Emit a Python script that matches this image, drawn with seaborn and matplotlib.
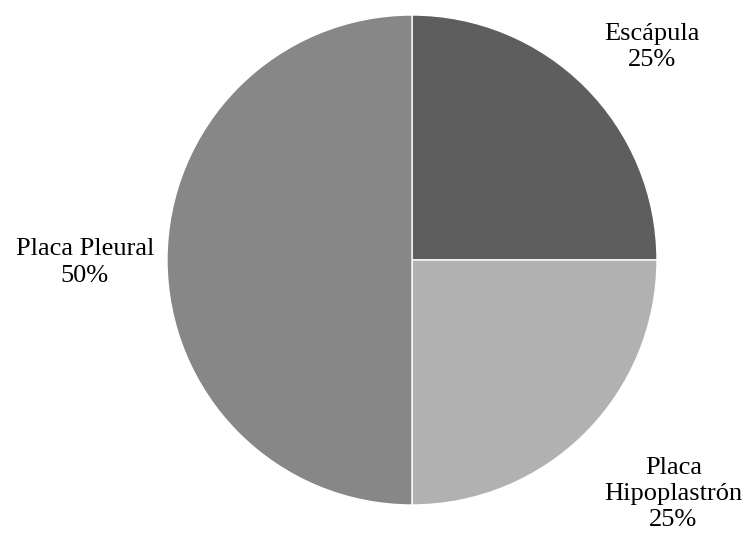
import matplotlib
matplotlib.use('Agg')
import matplotlib.pyplot as plt
import seaborn as sns

# data
parts = ['Escápula', 'Placa\nHipoplastrón', 'Placa Pleural']
shares = [25, 25, 50]
colours = ['#5e5e5e', '#b1b1b1', '#878787']
# label spots, in units of the pie radius
label_xy = [(0.98, 0.87), (1.067, -0.955), (-1.335, -0.01)]

sns.set_theme(style='white')
plt.rcParams['font.family'] = ['Liberation Serif', 'DejaVu Serif']

fig = plt.figure(figsize=(7.47, 5.36), dpi=100)
ax = fig.add_axes([167 / 747, 31 / 536, 490 / 747, 490 / 536])

ax.pie(shares, colors=colours, startangle=90, counterclock=False,
       radius=1, wedgeprops=dict(edgecolor='white', linewidth=1.0))

for name, val, (x, y) in zip(parts, shares, label_xy):
    ax.text(x, y, f'{name}\n{val}%', ha='center', va='center',
            fontsize=19, linespacing=1.25, color='black')

ax.set_xlim(-1, 1)
ax.set_ylim(-1, 1)
ax.set_aspect('equal')
ax.axis('off')

fig.savefig('out.png', dpi=100)
